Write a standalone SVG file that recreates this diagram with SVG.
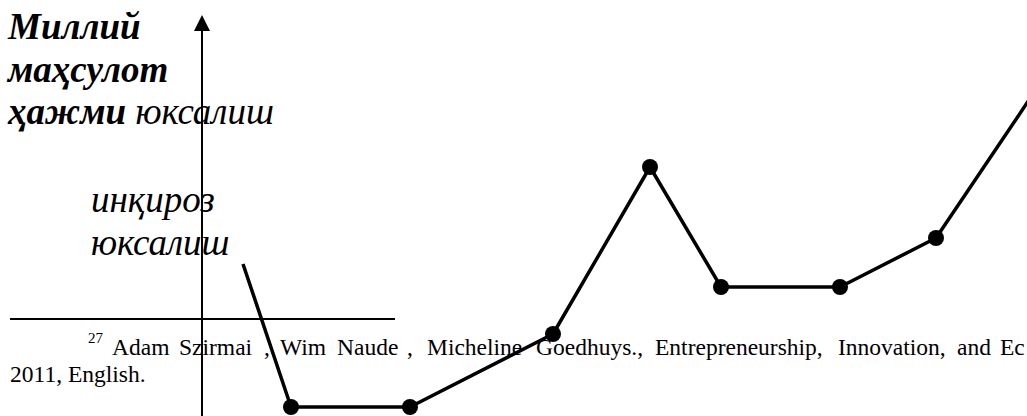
<svg xmlns="http://www.w3.org/2000/svg" width="1027" height="416" viewBox="0 0 1027 416">
<style>
.ax{stroke:#000;stroke-width:2;fill:none}
.curve{stroke:#000;stroke-width:3.5;fill:none;stroke-linejoin:round}
.dot{fill:#000}
</style>
<g id="axis">
<line class="ax" x1="202" y1="30" x2="202" y2="416"/>
<polygon points="202,15 194,31 210,31" fill="#000"/>
</g>
<g id="footnote-rule">
<line class="ax" x1="10" y1="319" x2="395" y2="319"/>
</g>
<g id="labels" font-family="Liberation Serif, serif" font-style="italic" font-size="37">
<text x="8" y="39" font-weight="bold">Миллий</text>
<text x="8" y="82" font-weight="bold">маҳсулот</text>
<text x="8" y="124"><tspan font-weight="bold">ҳажми</tspan> юксалиш</text>
<text x="91" y="212">инқироз</text>
<text x="91" y="255">юксалиш</text>
</g>
<g id="footnote" font-family="Liberation Serif, serif" font-size="23.5">
<text y="355"><tspan font-size="15" x="88" y="343">27</tspan><tspan x="112" y="355">Adam</tspan><tspan x="179">Szirmai</tspan><tspan x="264">,</tspan><tspan x="280">Wim</tspan><tspan x="337">Naude</tspan><tspan x="407">,</tspan><tspan x="427">Micheline</tspan><tspan x="536">Goedhuys.,</tspan><tspan x="655">Entrepreneurship,</tspan><tspan x="838">Innovation,</tspan><tspan x="957">and</tspan><tspan x="1000">Ec</tspan></text>
<text x="10" y="382">2011, English.</text>
</g>
<g id="connectors">
<polyline class="curve" points="243,264 291,407 410,407 553,334 650,167 721,287 840,287 936,238 1031,97"/>
</g>
<g id="points">
<circle class="dot" cx="291" cy="407" r="8"/>
<circle class="dot" cx="410" cy="407" r="8"/>
<circle class="dot" cx="553" cy="334" r="8"/>
<circle class="dot" cx="650" cy="167" r="8"/>
<circle class="dot" cx="721" cy="287" r="8"/>
<circle class="dot" cx="840" cy="287" r="8"/>
<circle class="dot" cx="936" cy="238" r="8"/>
</g>
</svg>
